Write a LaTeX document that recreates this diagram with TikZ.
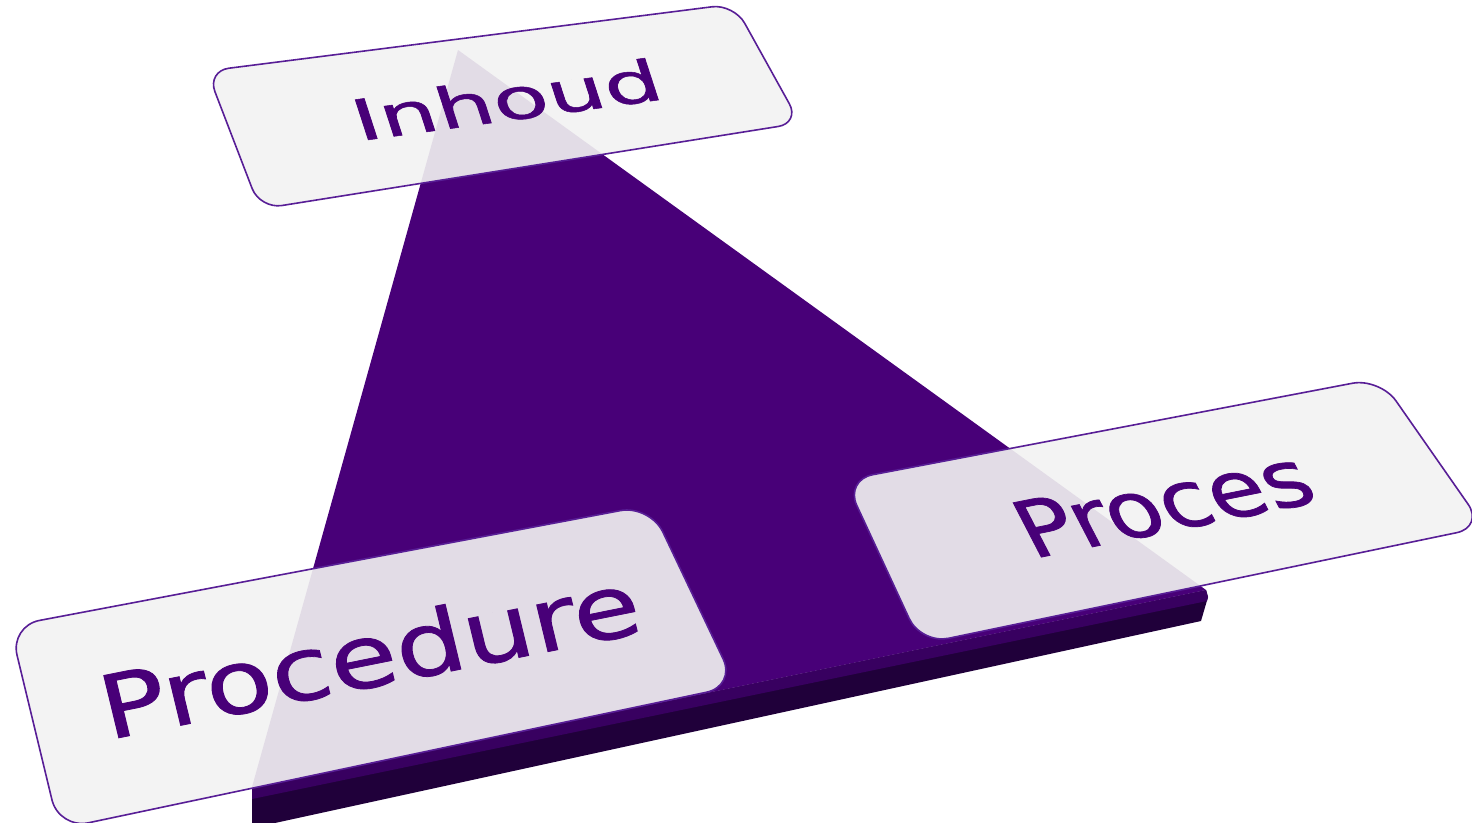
\documentclass[tikz,border=0pt]{standalone}
\usepackage{fontspec}
\newfontfamily\panelfont[FakeBold=0.9]{DejaVu Sans}
\definecolor{tri}{RGB}{72,0,120}
\definecolor{triside}{RGB}{32,0,58}
\definecolor{tririm}{RGB}{56,0,96}
\definecolor{rim}{RGB}{88,30,150}
\definecolor{glass}{RGB}{242,242,242}

\begin{document}
\begin{tikzpicture}[x=1pt,y=-1pt,
   panel/.style={draw=rim,line width=1.6pt,fill=glass,fill opacity=0.91,rounded corners=#1},
   word/.style={text=tri,inner sep=0pt,anchor=base,font=\panelfont\fontsize{#1}{#1}\selectfont}]
   \useasboundingbox (0,0) rectangle (1472,822);
   \coordinate (top) at (458,50);
   \coordinate (left) at (252,787);
   \coordinate (right) at (1206,590);

   \fill[triside] (left) -- (right) -- (1208,597) -- (1201,621) -- (252,828) -- cycle;
   \fill[tririm] (left) -- (right) -- (1208,597) -- (1207,601) -- (252,799) -- cycle;
   \fill[tri] (top) -- (right) -- (left) -- cycle;

   \draw[panel=22] (207,71) -- (734,4) -- (800,123) -- (260,209) -- cycle;
   \draw[panel=28] (845,480) -- (1380,378) -- (1484,527) -- (921,644) -- cycle;
   \draw[panel=30] (10,626) -- (650,505) -- (736,686) -- (59,829) -- cycle;

   \node[word=58, cm={1.536,0.211,-0.309,0.951,(0,0)}] (inhoud) at (513,120) {Inhoud};
   \node[word=84, cm={1.050,0.210,-0.460,0.888,(0,0)}] (proces) at (1177,530) {Proces};
   \node[word=88, cm={1.215,0.244,-0.235,0.972,(0,0)}] (procedure) at (377,686) {Procedure};
\end{tikzpicture}
\end{document}
